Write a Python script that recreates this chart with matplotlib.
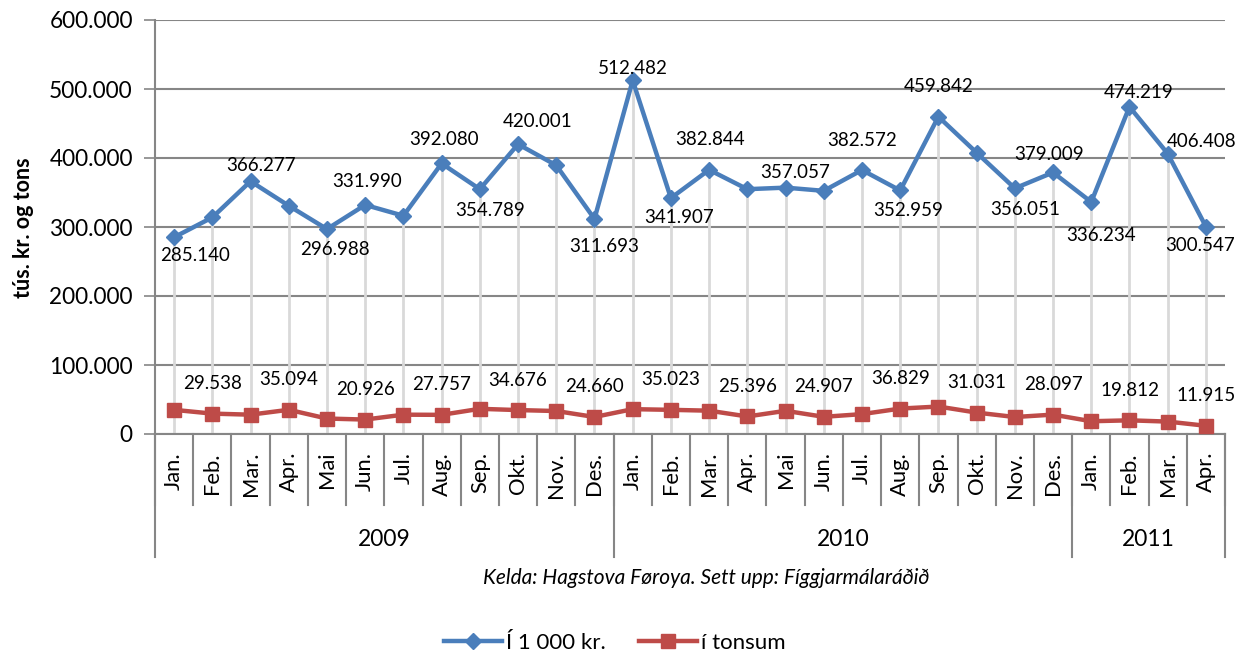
import numpy as np
import matplotlib
matplotlib.use('Agg')
import matplotlib.pyplot as plt
import matplotlib.transforms as mtransforms
from matplotlib.ticker import FuncFormatter

plt.rcParams['font.family'] = ['Lato', 'DejaVu Sans']

# Data
months = ['Jan.', 'Feb.', 'Mar.', 'Apr.', 'Mai', 'Jun.', 'Jul.', 'Aug.', 'Sep.', 'Okt.', 'Nov.', 'Des.'] * 2 + \
         ['Jan.', 'Feb.', 'Mar.', 'Apr.']
years = ['2009', '2010', '2011']
year_counts = [12, 12, 4]

kr_values = [285140, 313900, 366277, 330800, 296988, 331990, 316300, 392080, 354789, 420001, 389400, 311693,
             512482, 341907, 382844, 354800, 357057, 352400, 382572, 352959, 459842, 407700, 356051, 379009,
             336234, 474219, 406408, 300547]
ton_values = [35000, 29538, 28000, 35094, 22400, 20926, 28000, 27757, 36500, 34676, 33300, 24660,
              36000, 35023, 33800, 25396, 33600, 24907, 28800, 36829, 39800, 31031, 24600, 28097,
              18500, 19812, 18000, 11915]

# which points carry a value label
kr_labelled = [0, 2, 4, 5, 7, 8, 9, 11, 12, 13, 14, 16, 18, 19, 20, 22, 23, 24, 25, 26, 27]
ton_labelled = [1, 3, 5, 7, 9, 11, 13, 15, 17, 19, 21, 23, 25, 27]

# label offsets in pixels (dx, dy; dy positive = down)
kr_offsets = [(21, 18), (10, -16), (8, 20), (2, -23), (2, -24), (10, 21), (20, -23), (10, 28), (0, -12),
              (8, 19), (1, -30), (10, -15), (0, -30), (8, 20), (0, -30), (10, 21), (-4, -18), (10, 34),
              (9, -14), (34, -12), (-6, 19)]

blue = '#4A7EBB'
red = '#BE4B48'
grid_grey = '#868686'
drop_grey = '#D9D9D9'


def fmt(v):
    return f'{int(round(v)):,}'.replace(',', '.')


W, H = 1253, 656
fig = plt.figure(figsize=(W / 100, H / 100), dpi=100)
ax = fig.add_axes([155 / W, 1 - 434 / H, 1070 / W, 414 / H])

x = np.arange(len(months))

# drop lines
ax.vlines(x, 0, kr_values, color=drop_grey, lw=2, zorder=1)

ax.plot(x, kr_values, color=blue, lw=3.2, marker='D', ms=8, zorder=4, label='Í 1 000 kr.')
ax.plot(x, ton_values, color=red, lw=3.2, marker='s', ms=10, zorder=4, label='í tonsum')

for i, (dx, dy) in zip(kr_labelled, kr_offsets):
    ax.annotate(fmt(kr_values[i]), (x[i], kr_values[i]), xytext=(dx, -dy), textcoords='offset pixels',
                ha='center', va='center', fontsize=13.5, zorder=5)
for i in ton_labelled:
    ax.annotate(fmt(ton_values[i]), (x[i], ton_values[i]), xytext=(0, 30), textcoords='offset pixels',
                ha='center', va='center', fontsize=13.5, zorder=5)

ax.set_xlim(-0.5, len(months) - 0.5)
ax.set_ylim(0, 600000)
ax.set_yticks(np.arange(0, 600001, 100000))
ax.yaxis.set_major_formatter(FuncFormatter(lambda v, p: fmt(v)))
ax.tick_params(axis='y', length=8, width=1.2, color=grid_grey, labelsize=16.3, pad=8)
ax.set_xticks([])
ax.grid(axis='y', color=grid_grey, lw=1.5, zorder=0)
ax.set_axisbelow(True)
for s in ['top', 'right']:
    ax.spines[s].set_visible(False)
ax.spines['left'].set_color(grid_grey)
ax.spines['left'].set_linewidth(1.5)
ax.spines['bottom'].set_color(grid_grey)
ax.spines['bottom'].set_linewidth(1.5)

# category axis below
trans = mtransforms.blended_transform_factory(ax.transData, ax.transAxes)
month_bottom = (434 - 505) / 414
year_bottom = (434 - 557) / 414
for b in np.arange(len(months) + 1) - 0.5:
    ax.plot([b, b], [0, month_bottom], transform=trans, color=grid_grey, lw=1.5, clip_on=False)
for i, m in enumerate(months):
    ax.text(x[i], (434 - 452) / 414, m, transform=trans, rotation=90, ha='center', va='top', fontsize=15.8)
start = -0.5
for yname, cnt in zip(years, year_counts):
    ax.plot([start, start], [0, year_bottom], transform=trans, color=grid_grey, lw=1.5, clip_on=False)
    ax.text(start + cnt / 2, (434 - 540) / 414, yname, transform=trans, ha='center', va='center', fontsize=16.4)
    start += cnt
ax.plot([start, start], [0, year_bottom], transform=trans, color=grid_grey, lw=1.5, clip_on=False)

fig.text(23 / W, 1 - 228 / H, 'tús. kr. og tons', rotation=90, ha='center', va='center',
         fontsize=15.5, fontweight='bold')
fig.text(706 / W, 1 - 578 / H, 'Kelda: Hagstova Føroya. Sett upp: Fíggjarmálaráðið', ha='center', va='center',
         fontsize=15, style='italic')
fig.legend(loc='center', bbox_to_anchor=(615 / W, 1 - 643 / H), ncol=2, frameon=False, fontsize=16,
           handlelength=2.6, columnspacing=1.5, handletextpad=0.2)

fig.savefig('out.png', dpi=100)
